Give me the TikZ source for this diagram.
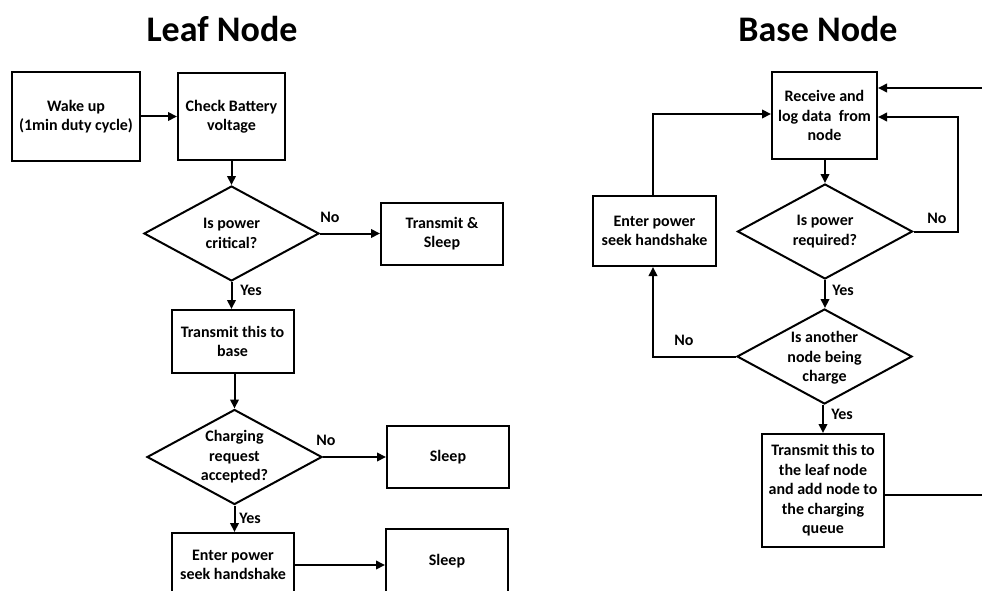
\documentclass[tikz,border=0pt]{standalone}
\usepackage{fontspec}
\setmainfont{Carlito}
\usetikzlibrary{shapes.geometric,arrows.meta}
\begin{document}
\begin{tikzpicture}[x=1pt,y=-1pt,
  every node/.style={font=\bfseries\fontsize{16}{19.5}\selectfont, align=center, inner sep=0pt},
  box/.style={draw, line width=2pt, rectangle},
  dia/.style={draw, line width=2pt, diamond, minimum width=175pt, minimum height=95pt},
  ttl/.style={font=\bfseries\fontsize{36}{40}\selectfont},
  arr/.style={line width=2pt, -{Triangle[length=9pt,width=8.5pt]}},
  ln/.style={line width=2pt}]
\useasboundingbox (0,0) rectangle (982,591);
\clip (0,0) rectangle (982,591);
% titles
\node[ttl] (t1) at (222,29) {Leaf Node};
\node[ttl] (t2) at (818,29) {Base Node};
% ---- Leaf node ----
\node[box, minimum width=128pt, minimum height=89pt] (wake) at (76,116.5) {Wake up\\(1min duty cycle)};
\node[box, minimum width=107pt, minimum height=87pt] (check) at (231.5,116.5) {Check Battery\\voltage};
\node[dia] (d1) at (231.5,233.5) {};
\node (d1t) at (d1) {Is power\\critical?};
\node[box, minimum width=122pt, minimum height=62pt] (ts) at (442,233.5) {Transmit \&\\Sleep};
\node[box, minimum width=122pt, minimum height=63pt] (tb) at (232.5,341.5) {Transmit this to\\base};
\node[dia] (d2) at (234.5,457) {};
\node (d2t) at (d2) {Charging\\request\\accepted?};
\node[box, minimum width=122pt, minimum height=62pt] (sl1) at (448,457) {Sleep};
\node[box, minimum width=122pt, minimum height=64pt] (ep2) at (233,565) {Enter power\\seek handshake};
\node[box, minimum width=122pt, minimum height=64pt] (sl2) at (447,561) {Sleep};
\node (no1) at (330,217) {No};
\node (yes1) at (251,290) {Yes};
\node (no2) at (326,440) {No};
\node (yes2) at (250,518) {Yes};
\draw[arr] (wake.east) -- (check.west);
\draw[arr] (check.south) -- (d1.north);
\draw[arr] (d1.east) -- (ts.west);
\draw[arr] (d1.south) -- (d1.south |- tb.north);
\draw[arr] (tb.south -| d2.north) -- (d2.north);
\draw[arr] (d2.east) -- (d2.east -| sl1.west);
\draw[arr] (d2.south) -- (d2.south |- ep2.north);
\draw[arr] (ep2.east) -- (ep2.east -| sl2.west);
% ---- Base node ----
\node[box, minimum width=105pt, minimum height=87pt] (rc) at (824.5,115.5) {Receive and\\log data\ \ from\\node};
\node[box, minimum width=123pt, minimum height=70pt] (ep) at (654.5,231) {Enter power\\seek handshake};
\node[dia] (d3) at (825,231.5) {};
\node (d3t) at (d3) {Is power\\required?};
\node[dia] (d4) at (824.5,356.5) {};
\node (d4t) at (824.5,358) {Is another\\node being\\charge};
\node[box, minimum width=122pt, minimum height=113pt] (tq) at (823,490.5) {Transmit this to\\the leaf node\\and add node to\\the charging\\queue};
\node (no3) at (937,218) {No};
\node (yes3) at (843,290) {Yes};
\node (no4) at (684,340) {No};
\node (yes4) at (842,414) {Yes};
\coordinate (inR) at (982,88);
\coordinate (nr) at (958,117);
\coordinate (lt) at (653,114);
\coordinate (outR) at (982,495);
\draw[arr] (inR) -- (inR -| rc.east);
\draw[arr] (rc.south -| d3.north) -- (d3.north);
\draw[arr] (d3.east) -| (nr) -- (nr -| rc.east);
\draw[arr] (ep.north -| lt) -- (lt) -- (lt -| rc.west);
\draw[arr] (d3.south) -- (d3.south |- d4.north);
\draw[arr] (d4.west) -| (lt |- ep.south);
\draw[arr] (d4.south -| tq.north) -- (tq.north);
\draw[ln] (tq.east |- outR) -- (outR);
\end{tikzpicture}
\end{document}
